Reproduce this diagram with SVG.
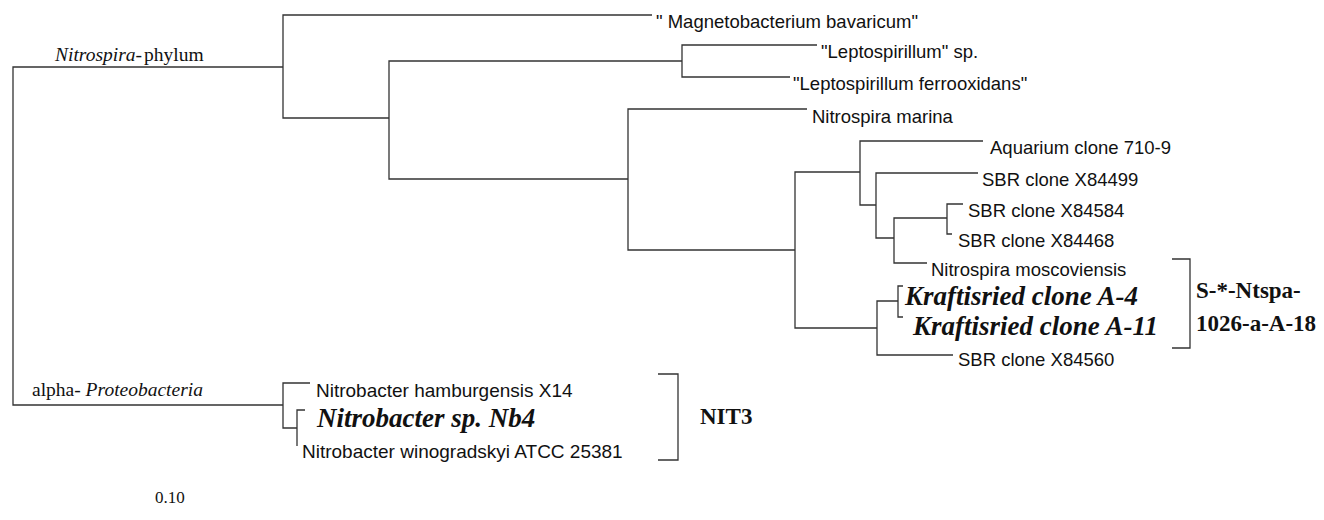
<svg xmlns="http://www.w3.org/2000/svg" width="1324" height="520" viewBox="0 0 1324 520">
<style>
.br{fill:none;stroke:#333;stroke-width:1.3}
.lf{font-family:"Liberation Sans",Arial,sans-serif;font-size:18.5px;fill:#111}
.nb{font-family:"Liberation Sans",Arial,sans-serif;font-size:19px;fill:#111}
.bi{font-family:"Liberation Serif","Times New Roman",serif;font-size:27px;font-weight:bold;font-style:italic;fill:#111}
.sf{font-family:"Liberation Serif","Times New Roman",serif;font-size:19.5px;fill:#111}
.bl{font-family:"Liberation Serif","Times New Roman",serif;font-size:23px;font-weight:bold;fill:#111}
</style>
<rect width="1324" height="520" fill="#fff"/>
<g id="connectors" class="br">
<path d="M283,67H13V405H283"/>
<path d="M652,15H283V118H389"/>
<path d="M682,61H389V179H628"/>
<path d="M817,45H682V77H790"/>
<path d="M807,109H628V250H795"/>
<path d="M860,172H795V328H877"/>
<path d="M983,141H860V205H876"/>
<path d="M978,173H876V238H894"/>
<path d="M947,218H894V263H927"/>
<path d="M963,204H947V234H952"/>
<path d="M898,301H877V355H953"/>
<path d="M903,286H898V317H903"/>
<path d="M310,383H283V428H297"/>
<path d="M305,410H297V446"/>
<path d="M1172,259H1190V348H1172"/>
<path d="M658,374H678V460H658"/>
</g>
<g id="label-nitrospira-phylum"><text class="sf" x="55" y="61"><tspan font-style="italic">Nitrospira-</tspan><tspan dx="2">phylum</tspan></text></g>
<g id="label-alpha"><text class="sf" x="32" y="396">alpha- <tspan font-style="italic">Proteobacteria</tspan></text></g>
<g id="leaf-magneto"><text class="lf" x="656" y="28">" Magnetobacterium bavaricum"</text></g>
<g id="leaf-lepto-sp"><text class="lf" x="821" y="58">"Leptospirillum" sp.</text></g>
<g id="leaf-lepto-ferro"><text class="lf" x="793" y="90">"Leptospirillum ferrooxidans"</text></g>
<g id="leaf-marina"><text class="lf" x="812" y="123">Nitrospira marina</text></g>
<g id="leaf-aquarium"><text class="lf" x="990" y="154">Aquarium clone 710-9</text></g>
<g id="leaf-x84499"><text class="lf" x="982" y="186">SBR clone X84499</text></g>
<g id="leaf-x84584"><text class="lf" x="968" y="217">SBR clone X84584</text></g>
<g id="leaf-x84468"><text class="lf" x="958" y="247">SBR clone X84468</text></g>
<g id="leaf-moscoviensis"><text class="lf" x="931" y="276">Nitrospira moscoviensis</text></g>
<g id="leaf-kraft-a4"><text class="bi" x="905" y="305">Kraftisried clone A-4</text></g>
<g id="leaf-kraft-a11"><text class="bi" x="913" y="335">Kraftisried clone A-11</text></g>
<g id="leaf-x84560"><text class="lf" x="958" y="366">SBR clone X84560</text></g>
<g id="leaf-hamburgensis"><text class="nb" x="316" y="397">Nitrobacter hamburgensis X14</text></g>
<g id="leaf-nb4"><text class="bi" x="317" y="427">Nitrobacter sp. Nb4</text></g>
<g id="leaf-winogradskyi"><text class="nb" x="302" y="458">Nitrobacter winogradskyi ATCC 25381</text></g>
<g id="label-probe"><text class="bl" x="1196" y="298">S-*-Ntspa-</text><text class="bl" x="1196" y="331">1026-a-A-18</text></g>
<g id="label-nit3"><text class="bl" x="700" y="424">NIT3</text></g>
<g id="scale"><text class="sf" x="155" y="503" style="font-size:17px">0.10</text></g>
</svg>
